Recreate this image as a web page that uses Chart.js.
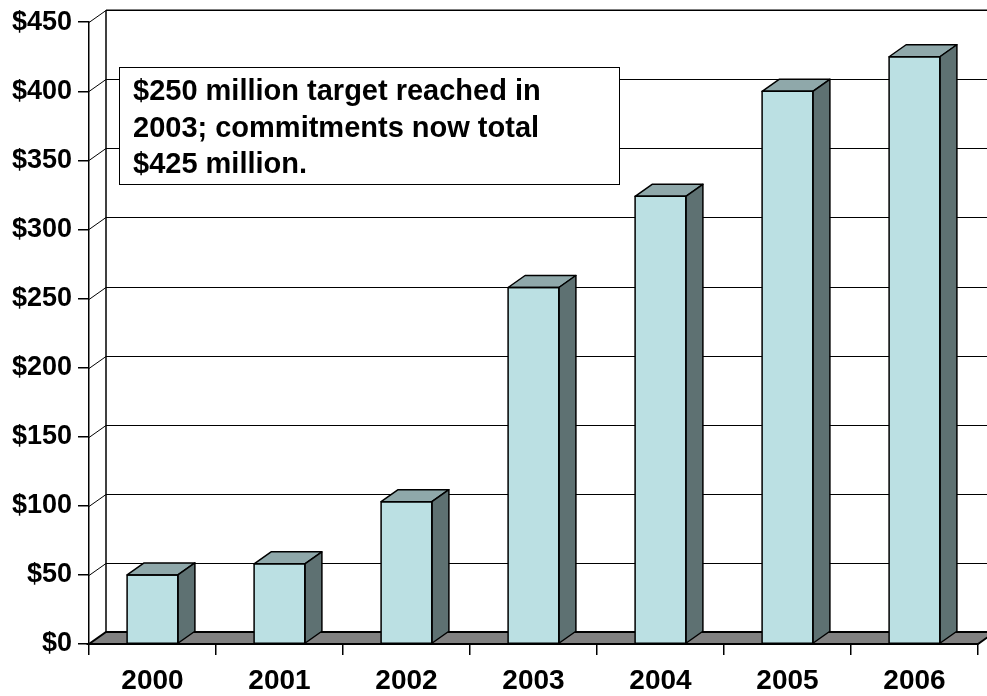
<!DOCTYPE html>
<html>
<head>
<meta charset="utf-8">
<script src="https://cdn.jsdelivr.net/npm/chart.js@4"></script>
<style>
  body { margin: 0; background: #fff; }
  #wrap { width: 987px; height: 696px; }
</style>
</head>
<body>
<div id="wrap"><canvas id="commitments" width="987" height="696"></canvas></div>
<script>
// data
const years = ['2000', '2001', '2002', '2003', '2004', '2005', '2006'];
const commitments = [50, 58, 103, 258, 324, 400, 425]; // $ millions
const yTicks = [0, 50, 100, 150, 200, 250, 300, 350, 400, 450];
const noteLines = ['$250 million target reached in', '2003; commitments now total', '$425 million.'];

// 3d look
const depthX = 17;
const depthY = 12;
const frontColor = '#bbe0e3';
const topColor = '#8fa8aa';
const sideColor = '#5e7172';
const fontFamily = '"Liberation Sans", Arial, sans-serif';

// back wall, gridlines and floor behind the bars
const wallPlugin = {
    id: 'wall',
    beforeDatasetsDraw(chart) {
        const ctx = chart.ctx;
        const area = chart.chartArea;
        const y = chart.scales.y;
        ctx.save();
        ctx.strokeStyle = '#000';
        ctx.lineWidth = 1;
        yTicks.forEach(v => {
            const py = Math.round(y.getPixelForValue(v)) + 0.5;
            ctx.beginPath();
            ctx.moveTo(area.left, py);
            ctx.lineTo(area.left + depthX, py - depthY);
            ctx.lineTo(area.right + depthX + 20, py - depthY);
            ctx.stroke();
        });
        // back wall left edge
        ctx.lineWidth = 1.5;
        ctx.beginPath();
        ctx.moveTo(area.left + depthX, y.getPixelForValue(450) - depthY);
        ctx.lineTo(area.left + depthX, y.getPixelForValue(0) - depthY);
        ctx.stroke();
        ctx.beginPath();
        ctx.moveTo(area.left + depthX, y.getPixelForValue(450) - depthY);
        ctx.lineTo(area.right + depthX + 20, y.getPixelForValue(450) - depthY);
        ctx.stroke();

        // floor
        const base = y.getPixelForValue(0);
        ctx.fillStyle = '#808080';
        ctx.beginPath();
        ctx.moveTo(area.left, base);
        ctx.lineTo(area.right, base);
        ctx.lineTo(area.right + depthX, base - depthY);
        ctx.lineTo(area.left + depthX, base - depthY);
        ctx.closePath();
        ctx.fill();
        ctx.lineWidth = 2;
        ctx.stroke();
        ctx.restore();
    },
    afterDatasetsDraw(chart) {
        const ctx = chart.ctx;
        const meta = chart.getDatasetMeta(0);
        ctx.save();
        ctx.strokeStyle = '#000';
        ctx.lineWidth = 1.5;
        ctx.lineJoin = 'round';
        meta.data.forEach(bar => {
            const p = bar.getProps(['x', 'y', 'base', 'width'], true);
            const x0 = p.x - p.width / 2;
            const x1 = p.x + p.width / 2;
            // top face
            ctx.fillStyle = topColor;
            ctx.beginPath();
            ctx.moveTo(x0, p.y);
            ctx.lineTo(x1, p.y);
            ctx.lineTo(x1 + depthX, p.y - depthY);
            ctx.lineTo(x0 + depthX, p.y - depthY);
            ctx.closePath();
            ctx.fill();
            ctx.stroke();
            // side face
            ctx.fillStyle = sideColor;
            ctx.beginPath();
            ctx.moveTo(x1, p.y);
            ctx.lineTo(x1 + depthX, p.y - depthY);
            ctx.lineTo(x1 + depthX, p.base - depthY);
            ctx.lineTo(x1, p.base);
            ctx.closePath();
            ctx.fill();
            ctx.stroke();
            // front face outline
            ctx.strokeRect(x0, p.y, p.width, p.base - p.y);
        });
        ctx.restore();
    },
    afterDraw(chart) {
        // note box
        const ctx = chart.ctx;
        ctx.save();
        ctx.fillStyle = '#fff';
        ctx.fillRect(119, 67, 500, 117);
        ctx.strokeStyle = '#000';
        ctx.lineWidth = 1;
        ctx.strokeRect(119.5, 67.5, 500, 117);
        ctx.fillStyle = '#000';
        ctx.font = 'bold 29px ' + fontFamily;
        ctx.textBaseline = 'alphabetic';
        noteLines.forEach((t, i) => ctx.fillText(t, 133, 100 + i * 36.5));
        ctx.restore();
    }
};

new Chart(document.getElementById('commitments'), {
    type: 'bar',
    data: {
        labels: years,
        datasets: [{
            data: commitments,
            backgroundColor: frontColor,
            borderWidth: 0,
            categoryPercentage: 1,
            barPercentage: 0.4
        }]
    },
    options: {
        responsive: false,
        animation: false,
        layout: { padding: { top: 21, right: 9, left: 0, bottom: 0 } },
        plugins: { legend: { display: false }, tooltip: { enabled: false } },
        scales: {
            x: {
                afterFit(scale) { scale.height = 52; },
                grid: { drawOnChartArea: false, offset: true, color: '#000', tickLength: 11, lineWidth: 1.5 },
                border: { color: '#000', width: 1.5 },
                ticks: { color: '#000', padding: 9, font: { family: fontFamily, size: 28, weight: 'bold' } }
            },
            y: {
                min: 0,
                max: 450,
                afterFit(scale) { scale.width = 89; },
                afterBuildTicks(scale) { scale.ticks = yTicks.map(v => ({ value: v })); },
                grid: { drawOnChartArea: false, color: '#000', tickLength: 11, lineWidth: 1.5 },
                border: { color: '#000', width: 1.5 },
                ticks: {
                    color: '#000',
                    padding: 6,
                    font: { family: fontFamily, size: 27, weight: 'bold' },
                    callback: v => '$' + v
                }
            }
        }
    },
    plugins: [wallPlugin]
});
</script>
</body>
</html>
